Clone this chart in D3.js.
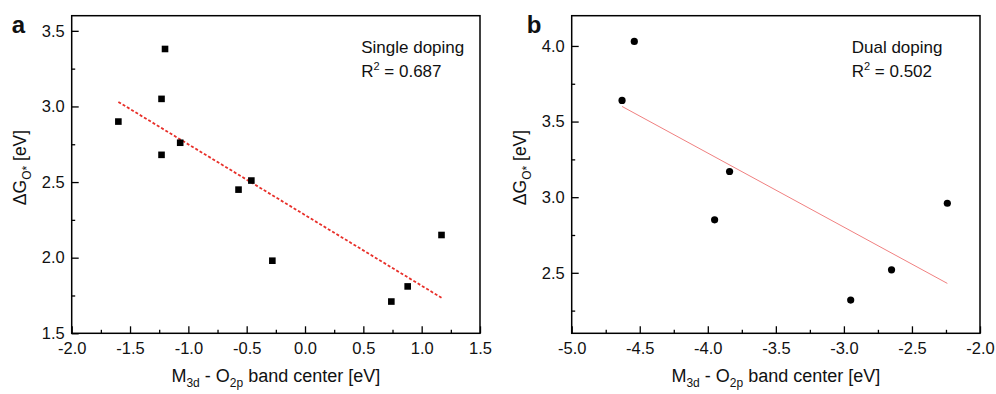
<!DOCTYPE html>
<html>
<head>
<meta charset="utf-8">
<script src="https://cdn.jsdelivr.net/npm/d3@7"></script>
<style>
	body { margin: 0; background: #fff; }
	svg text { font-family: "Liberation Sans", Arial, sans-serif; fill: #111; }
	.axis path { display: none; }
	.axis line { stroke: #000; stroke-width: 1.3; }
	.axis text { font-size: 16.5px; }
</style>
</head>
<body>
<div id="chart"></div>
<script>
// panel a : single doping
var singleX = [-1.60, -1.20, -1.23, -1.23, -1.07, -0.57, -0.46, -0.28, 0.74, 0.88, 1.17];
var singleY = [2.90, 3.38, 3.05, 2.68, 2.76, 2.45, 2.51, 1.98, 1.71, 1.81, 2.15];
var singleFitX = [-1.60, 1.17];
var singleFitY = [3.03, 1.735];

// panel b : dual doping
var dualX = [-4.63, -4.54, -3.95, -3.84, -2.95, -2.65, -2.24];
var dualY = [3.64, 4.03, 2.85, 3.17, 2.32, 2.52, 2.96];
var dualFitX = [-4.63, -2.24];
var dualFitY = [3.60, 2.43];

var xTicksA = [-2.0, -1.5, -1.0, -0.5, 0.0, 0.5, 1.0, 1.5];
var yTicksA = [1.5, 2.0, 2.5, 3.0, 3.5];
var xTicksB = [-5.0, -4.5, -4.0, -3.5, -3.0, -2.5, -2.0];
var yTicksB = [2.5, 3.0, 3.5, 4.0];

var svg = d3.select("#chart").append("svg")
	.attr("width", 996)
	.attr("height", 394);

var panels = [
	{ letter: "a", left: 71.7, xDomain: [-2, 1.5], yDomain: [1.5, 3.6],
	  xs: singleX, ys: singleY, fx: singleFitX, fy: singleFitY,
	  xTicks: xTicksA, yTicks: yTicksA, marker: "square",
	  label: "Single doping", r2: "0.687", labelX: 289.5 },
	{ letter: "b", left: 571.7, xDomain: [-5, -2], yDomain: [2.1, 4.2],
	  xs: dualX, ys: dualY, fx: dualFitX, fy: dualFitY,
	  xTicks: xTicksB, yTicks: yTicksB, marker: "circle",
	  label: "Dual doping", r2: "0.502", labelX: 280 }
];

var plotTop = 15.7, plotBottom = 333.3, plotWidth = 408.3;
var fmt = function(d) { return d.toFixed(1); };

panels.forEach(function(p) {

	var g = svg.append("g").attr("transform", "translate(" + p.left + ",0)");

	var x = d3.scaleLinear().domain(p.xDomain).range([0, plotWidth]);
	var y = d3.scaleLinear().domain(p.yDomain).range([plotBottom, plotTop]);

	// minor ticks halfway between labelled ones
	var xMinor = d3.range(p.xDomain[0] + 0.25, p.xDomain[1], 0.5);
	var yMinor = d3.range(1.25, 4.5, 0.5).filter(function(v) { return v > p.yDomain[0] && v < p.yDomain[1]; });

	g.append("g").attr("class", "axis")
		.attr("transform", "translate(0," + plotBottom + ")")
		.call(d3.axisBottom(x).tickValues(p.xTicks).tickSizeInner(-7).tickSizeOuter(0).tickPadding(9)
			.tickFormat(fmt));
	g.append("g").attr("class", "axis")
		.attr("transform", "translate(0," + plotBottom + ")")
		.call(d3.axisBottom(x).tickValues(xMinor).tickSizeInner(-3.5).tickSizeOuter(0).tickFormat(""));

	g.append("g").attr("class", "axis")
		.call(d3.axisLeft(y).tickValues(p.yTicks).tickSizeInner(-7).tickSizeOuter(0).tickPadding(7)
			.tickFormat(fmt));
	g.append("g").attr("class", "axis")
		.call(d3.axisLeft(y).tickValues(yMinor).tickSizeInner(-3.5).tickSizeOuter(0).tickFormat(""));

	g.append("rect")
		.attr("x", 0).attr("y", plotTop)
		.attr("width", plotWidth).attr("height", plotBottom - plotTop)
		.attr("fill", "none").attr("stroke", "#000").attr("stroke-width", 1.5);

	// fit line
	var fit = d3.line()
		.x(function(d) { return x(d[0]); })
		.y(function(d) { return y(d[1]); });
	g.append("path")
		.datum(d3.zip(p.fx, p.fy))
		.attr("d", fit)
		.attr("fill", "none")
		.attr("stroke", p.marker == "square" ? "#e8302a" : "#f08080")
		.attr("stroke-width", p.marker == "square" ? 1.8 : 1)
		.attr("stroke-dasharray", p.marker == "square" ? "3,2" : null);

	var pts = d3.zip(p.xs, p.ys);
	if (p.marker == "square") {
		g.selectAll("rect.pt").data(pts).enter().append("rect")
			.attr("class", "pt")
			.attr("x", function(d) { return x(d[0]) - 3.3; })
			.attr("y", function(d) { return y(d[1]) - 3.3; })
			.attr("width", 6.6).attr("height", 6.6)
			.attr("fill", "#000");
	} else {
		g.selectAll("circle.pt").data(pts).enter().append("circle")
			.attr("class", "pt")
			.attr("cx", function(d) { return x(d[0]); })
			.attr("cy", function(d) { return y(d[1]); })
			.attr("r", 3.6)
			.attr("fill", "#000");
	}

	// panel letter
	g.append("text")
		.attr("x", p.letter == "a" ? -60 : -45).attr("y", 33)
		.style("font-size", "24px").style("font-weight", "bold")
		.text(p.letter);

	// annotation
	g.append("text")
		.attr("x", p.labelX)
		.attr("y", 53)
		.style("font-size", "17px")
		.text(p.label);
	var r2 = g.append("text")
		.attr("x", p.labelX)
		.attr("y", 77)
		.style("font-size", "17px");
	r2.append("tspan").text("R");
	r2.append("tspan").attr("dy", -7).style("font-size", "11px").text("2");
	r2.append("tspan").attr("dy", 7).text(" = " + p.r2);

	// x title
	var xt = g.append("text")
		.attr("x", plotWidth / 2).attr("y", 382)
		.attr("text-anchor", "middle")
		.style("font-size", "18px");
	xt.append("tspan").text("M");
	xt.append("tspan").attr("dy", 5).style("font-size", "12px").text("3d");
	xt.append("tspan").attr("dy", -5).text(" - O");
	xt.append("tspan").attr("dy", 5).style("font-size", "12px").text("2p");
	xt.append("tspan").attr("dy", -5).text(" band center [eV]");

	// y title
	var yt = g.append("text")
		.attr("transform", "translate(-45.5," + ((plotTop + plotBottom) / 2 - 7) + ") rotate(-90)")
		.attr("text-anchor", "middle")
		.style("font-size", "17.5px");
	yt.append("tspan").text("\u0394G");
	yt.append("tspan").attr("dy", 5).style("font-size", "12px").text("O*");
	yt.append("tspan").attr("dy", -5).text(" [eV]");
});
</script>
</body>
</html>
